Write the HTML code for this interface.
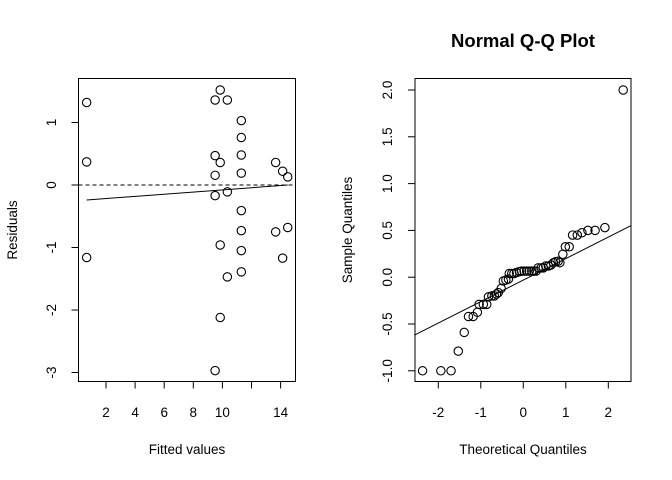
<!DOCTYPE html>
<html><head><meta charset="utf-8"><style>
body{margin:0;background:#fff}
svg{display:block;font-family:"Liberation Sans",sans-serif}
</style></head><body>
<svg id="c" width="672" height="480"></svg>
<script>
// Residuals vs fitted data
const fittedVals=[0.67,0.67,0.67,9.5,9.5,9.5,9.5,9.5,9.85,9.85,9.85,9.85,10.34,10.34,10.34,11.3,11.3,11.3,11.3,11.3,11.3,11.3,11.3,13.66,13.66,14.14,14.14,14.49,14.49];
const residVals=[1.32,0.37,-1.16,1.36,0.47,0.155,-0.17,-2.97,1.52,0.36,-0.96,-2.12,1.36,-0.11,-1.47,1.03,0.76,0.48,0.19,-0.41,-0.73,-1.05,-1.39,0.36,-0.75,0.22,-1.17,0.13,-0.68];
const smoothX=[0.67,14.49];
const smoothY=[-0.24,0.0];
const leftXTicks=[2,4,6,8,10,12,14];
const leftXTickLabels=["2","4","6","8","10","","14"];
const leftYTicks=[-3,-2,-1,0,1];
// QQ data
const theoQ=[-2.37,-1.94,-1.70,-1.53,-1.39,-1.29,-1.18,-1.08,-1.04,-0.94,-0.86,-0.82,-0.74,-0.68,-0.63,-0.59,-0.52,-0.47,-0.41,-0.35,-0.33,-0.27,-0.22,-0.16,-0.09,-0.04,0.02,0.08,0.14,0.20,0.25,0.30,0.35,0.42,0.47,0.53,0.59,0.65,0.71,0.76,0.82,0.86,0.93,0.99,1.08,1.16,1.27,1.38,1.52,1.69,1.92,2.35];
const sampQ=[-1.0,-1.0,-1.0,-0.79,-0.59,-0.42,-0.42,-0.375,-0.29,-0.29,-0.29,-0.21,-0.20,-0.20,-0.18,-0.165,-0.12,-0.04,-0.03,-0.02,0.04,0.04,0.04,0.05,0.06,0.065,0.065,0.065,0.065,0.065,0.065,0.065,0.10,0.10,0.10,0.12,0.12,0.13,0.155,0.165,0.17,0.155,0.245,0.325,0.325,0.45,0.45,0.475,0.50,0.50,0.53,2.0];
const qqLineT=[-2.565,2.53];
const qqLineS=[-0.62,0.55];
const rightXTicks=[-2,-1,0,1,2];
const rightYTicks=[-1.0,-0.5,0.0,0.5,1.0,1.5,2.0];

const NS="http://www.w3.org/2000/svg";
const svg=document.getElementById('c');
function mk(tag,attrs,parent){const e=document.createElementNS(NS,tag);for(const k in attrs)e.setAttribute(k,attrs[k]);(parent||svg).appendChild(e);return e;}

const lx=v=>76.9+v*14.55, ly=v=>185-v*62.5;
const rx=v=>523.3+v*42.5, ry=v=>277.2-v*93.6;

function panel(name,x0,x1,y0,y1){
  const r=mk('rect',{x:x0,y:y0,width:x1-x0,height:y1-y0,fill:'none',stroke:'#000','stroke-width':1});
  
  
}
panel('residuals-panel',78.5,295.5,78.5,381.5);
panel('qq-panel',415,631,78.5,381.5);

function xAxis(name,ticks,labels,fx,lineY){
  const g=mk('g',{});
  
  
  mk('line',{x1:fx(ticks[0]),x2:fx(ticks[ticks.length-1]),y1:lineY,y2:lineY,stroke:'#000'},g);
  ticks.forEach((t,i)=>{
    mk('line',{x1:fx(t),x2:fx(t),y1:lineY,y2:lineY+7,stroke:'#000'},g);
    const tx=mk('text',{x:fx(t),y:417,'text-anchor':'middle','font-size':13.5},g);
    tx.textContent=labels[i];
  });
}
function yAxis(name,ticks,labels,fy,lineX,labX){
  const g=mk('g',{});
  
  
  mk('line',{x1:lineX,x2:lineX,y1:fy(ticks[0]),y2:fy(ticks[ticks.length-1]),stroke:'#000'},g);
  ticks.forEach((t,i)=>{
    mk('line',{x1:lineX,x2:lineX-7,y1:fy(t),y2:fy(t),stroke:'#000'},g);
    const tx=mk('text',{x:labX,y:fy(t),'text-anchor':'middle','font-size':13.5,transform:`rotate(-90 ${labX} ${fy(t)})`},g);
    tx.textContent=labels[i];
  });
}
xAxis('residuals-x-axis',leftXTicks,leftXTickLabels,lx,381.5);
yAxis('residuals-y-axis',leftYTicks,leftYTicks.map(String),ly,78.5,56);
xAxis('qq-x-axis',rightXTicks,rightXTicks.map(String),rx,381.5);
yAxis('qq-y-axis',rightYTicks,rightYTicks.map(v=>v.toFixed(1)),ry,415,392);

function label(name,text,x,y,rot,opts){
  const t=mk('text',Object.assign({x:x,y:y,'text-anchor':'middle','font-size':13.5},opts||{}));
  if(rot)t.setAttribute('transform',`rotate(-90 ${x} ${y})`);
  t.textContent=text;
  
  
}
label('residuals-x-title','Fitted values',187,454);
label('residuals-y-title','Residuals',17,230,true);
label('qq-x-title','Theoretical Quantiles',523,454);
label('qq-y-title','Sample Quantiles',352,230,true);
label('qq-title','Normal Q-Q Plot',523,47,false,{'font-weight':'bold','font-size':18.5});

const zl=mk('line',{x1:78.5,x2:295.5,y1:ly(0),y2:ly(0),stroke:'#000','stroke-dasharray':'4,3'});


const sm=mk('line',{x1:lx(smoothX[0]),x2:lx(smoothX[1]),y1:ly(smoothY[0]),y2:ly(smoothY[1]),stroke:'#000'});



fittedVals.forEach((f,i)=>{
  const c=mk('circle',{cx:lx(f),cy:ly(residVals[i]),r:4.2,fill:'none',stroke:'#000','stroke-width':1.1});
  
  
});

const ql=mk('line',{x1:rx(qqLineT[0]),x2:rx(qqLineT[1]),y1:ry(qqLineS[0]),y2:ry(qqLineS[1]),stroke:'#000'});


theoQ.forEach((t,i)=>{
  const c=mk('circle',{cx:rx(t),cy:ry(sampQ[i]),r:4.2,fill:'none',stroke:'#000','stroke-width':1.1});
  
  
});
</script>
</body></html>
